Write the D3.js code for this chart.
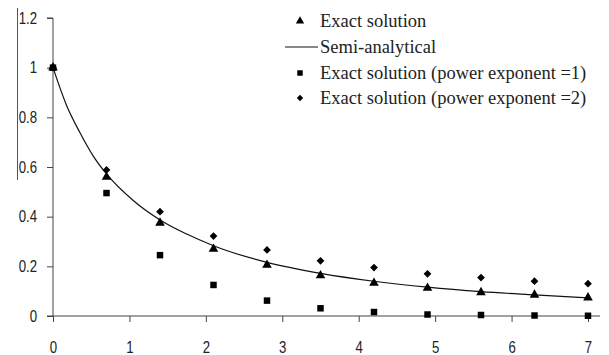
<!DOCTYPE html>
<html>
<head>
<meta charset="utf-8">
<script src="https://cdn.jsdelivr.net/npm/d3@7"></script>
<style>
  body { margin: 0; background: #fff; }
  svg text { fill: #222; }
</style>
</head>
<body>
<div id="chart"></div>
<script>
// x positions of the sampled points
var xs = [0, 0.7, 1.4, 2.1, 2.8, 3.5, 4.2, 4.9, 5.6, 6.3, 7];
// exact solution (triangles)
var exact = [1, 0.56, 0.375, 0.27, 0.205, 0.163, 0.133, 0.113, 0.095, 0.085, 0.074];
// exact solution, power exponent = 1 (squares)
var exactP1 = [1, 0.495, 0.245, 0.125, 0.062, 0.031, 0.016, 0.006, 0.004, 0.002, 0.001];
// exact solution, power exponent = 2 (diamonds)
var exactP2 = [1, 0.588, 0.42, 0.322, 0.266, 0.222, 0.195, 0.17, 0.155, 0.14, 0.13];
// semi-analytical curve
var semiX = [0, 0.175, 0.35, 0.525, 0.7, 1.05, 1.4, 1.75, 2.1, 2.8, 3.5, 4.2, 4.9, 5.6, 6.3, 7];
var semiY = [1, 0.85, 0.74, 0.645, 0.572, 0.465, 0.387, 0.33, 0.283, 0.216, 0.172, 0.14, 0.116, 0.098, 0.085, 0.073];
var xTicks = [0, 1, 2, 3, 4, 5, 6, 7];
var yTicks = [0, 0.2, 0.4, 0.6, 0.8, 1, 1.2];
var legendLabels = ["Exact solution", "Semi-analytical",
  "Exact solution (power exponent =1)", "Exact solution (power exponent =2)"];

var W = 609, H = 355;
var svg = d3.select("#chart").append("svg")
  .attr("width", W).attr("height", H);

var x = d3.scaleLinear().domain([0, 7]).range([53, 588]);
var y = d3.scaleLinear().domain([0, 1.2]).range([316, 18]);

// stray border line from the scanned figure
svg.append("line")
  .attr("x1", 17.5).attr("x2", 17.5).attr("y1", 8).attr("y2", 180)
  .attr("stroke", "#555").attr("stroke-width", 1);

var tickFont = "'Liberation Sans', Arial, sans-serif";

// y axis
var yAxis = svg.append("g")
  .attr("transform", "translate(" + x(0) + ",0)")
  .call(d3.axisLeft(y).tickValues(yTicks).tickSize(6)
    .tickFormat(function(d) { return String(+d.toFixed(1)); }));
yAxis.select(".domain").attr("stroke", "#444").attr("d", "M-6," + y(1.2) + "H0V" + y(0));
yAxis.selectAll(".tick line").attr("stroke", "#444");
yAxis.selectAll("text").attr("font-family", tickFont)
  .attr("font-size", 16.5).attr("fill", "#444")
  .attr("x", 0).attr("transform", "translate(-16,0) scale(0.8,1)");

// x axis
var xAxis = svg.append("g")
  .attr("transform", "translate(0," + y(0) + ")")
  .call(d3.axisBottom(x).tickValues(xTicks).tickSize(6)
    .tickFormat(d3.format("d")));
xAxis.select(".domain").attr("stroke", "#444").attr("d", "M47,0H600");
xAxis.selectAll(".tick line").attr("stroke", "#444");
xAxis.selectAll("text").attr("font-family", tickFont)
  .attr("font-size", 16.5).attr("fill", "#444")
  .attr("y", 0).attr("dy", 0).attr("transform", "translate(0,37) scale(0.8,1)");

// semi-analytical line
var line = d3.line()
  .x(function(d) { return x(d[0]); })
  .y(function(d) { return y(d[1]); })
  .curve(d3.curveMonotoneX);
svg.append("path")
  .datum(d3.zip(semiX, semiY))
  .attr("d", line)
  .attr("fill", "none").attr("stroke", "#111").attr("stroke-width", 1.2);

var tri = d3.symbol().type(d3.symbolTriangle).size(40);
var sq = d3.symbol().type(d3.symbolSquare).size(42);
var dia = d3.symbol().type(d3.symbolSquare).size(30);

function drawPts(vals, sym, rot) {
  svg.append("g").selectAll("path")
    .data(d3.zip(xs, vals))
    .join("path")
    .attr("transform", function(d) {
      return "translate(" + x(d[0]) + "," + y(d[1]) + ")" + (rot ? " rotate(45)" : "");
    })
    .attr("d", sym)
    .attr("fill", "#000");
}
drawPts(exactP2, dia, true);
drawPts(exactP1, sq, false);
drawPts(exact, tri, false);

// legend
var lg = svg.append("g").attr("font-family", "'Liberation Serif', 'Times New Roman', serif")
  .attr("font-size", 18.5);
var ly = [21, 47, 73, 98];
lg.append("path").attr("d", d3.symbol().type(d3.symbolTriangle).size(30))
  .attr("transform", "translate(300," + ly[0] + ")").attr("fill", "#000");
lg.append("line").attr("x1", 285).attr("x2", 318).attr("y1", ly[1]).attr("y2", ly[1])
  .attr("stroke", "#111").attr("stroke-width", 1.2);
lg.append("path").attr("d", d3.symbol().type(d3.symbolSquare).size(30))
  .attr("transform", "translate(300," + ly[2] + ")").attr("fill", "#000");
lg.append("path").attr("d", d3.symbol().type(d3.symbolSquare).size(20))
  .attr("transform", "translate(300," + ly[3] + ") rotate(45)").attr("fill", "#000");
lg.selectAll("text").data(legendLabels).join("text")
  .attr("x", 320)
  .attr("y", function(d, i) { return ly[i] + 6; })
  .text(function(d) { return d; })
  .attr("fill", "#111");
</script>
</body>
</html>
